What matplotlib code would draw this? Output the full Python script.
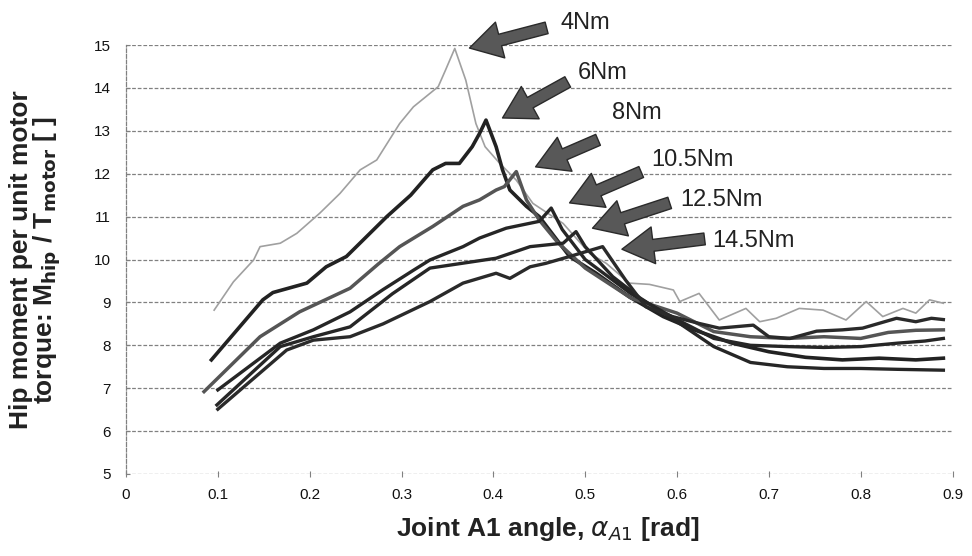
import matplotlib
matplotlib.use("Agg")
import matplotlib.pyplot as plt

plt.rcParams['font.family'] = ['Liberation Sans', 'DejaVu Sans']

# ---------------- data ----------------
x_4 = [0.096, 0.117, 0.139, 0.146, 0.168, 0.186, 0.211, 0.233, 0.255, 0.273, 0.298, 0.313,
       0.340, 0.348, 0.358, 0.370, 0.381, 0.391, 0.407, 0.425, 0.443, 0.476, 0.505, 0.523,
       0.548, 0.570, 0.596, 0.603, 0.624, 0.635, 0.646, 0.675, 0.690, 0.708, 0.733, 0.759,
       0.784, 0.806, 0.824, 0.846, 0.860, 0.875, 0.890]
y_4 = [8.82, 9.48, 9.99, 10.30, 10.38, 10.61, 11.08, 11.54, 12.09, 12.32, 13.17, 13.56,
       14.03, 14.42, 14.92, 14.18, 13.17, 12.63, 12.24, 11.85, 11.31, 10.84, 10.14, 9.91,
       9.45, 9.42, 9.29, 9.02, 9.21, 8.90, 8.59, 8.86, 8.55, 8.63, 8.86, 8.82,
       8.59, 9.02, 8.67, 8.86, 8.75, 9.06, 8.98]

x_6 = [0.093, 0.149, 0.160, 0.197, 0.218, 0.240, 0.258, 0.284, 0.310, 0.334, 0.348, 0.363,
       0.377, 0.385, 0.392, 0.403, 0.410, 0.418, 0.436, 0.450, 0.483, 0.512, 0.548, 0.585,
       0.620, 0.660, 0.700, 0.740, 0.780, 0.820, 0.860, 0.890]
y_6 = [7.66, 9.06, 9.23, 9.45, 9.83, 10.07, 10.45, 11.00, 11.50, 12.09, 12.24, 12.24,
       12.63, 12.94, 13.25, 12.63, 12.09, 11.62, 11.24, 11.00, 10.07, 9.68, 9.13, 8.67,
       8.35, 8.05, 7.85, 7.72, 7.66, 7.70, 7.66, 7.70]

x_8 = [0.085, 0.146, 0.189, 0.244, 0.275, 0.298, 0.334, 0.367, 0.385, 0.403, 0.412, 0.425,
       0.436, 0.450, 0.470, 0.500, 0.550, 0.600, 0.640, 0.680, 0.720, 0.760, 0.800, 0.830,
       0.860, 0.890]
y_8 = [6.92, 8.20, 8.78, 9.33, 9.90, 10.30, 10.77, 11.24, 11.39, 11.62, 11.70, 12.05,
       11.39, 10.92, 10.40, 9.80, 9.10, 8.75, 8.32, 8.20, 8.16, 8.20, 8.16, 8.30,
       8.35, 8.36]

x_105 = [0.100, 0.168, 0.204, 0.244, 0.280, 0.313, 0.331, 0.367, 0.385, 0.414, 0.450, 0.463,
         0.475, 0.500, 0.550, 0.600, 0.640, 0.680, 0.720, 0.760, 0.800, 0.840, 0.870, 0.890]
y_105 = [6.96, 8.05, 8.36, 8.78, 9.30, 9.75, 9.99, 10.30, 10.50, 10.73, 10.89, 11.20,
         10.70, 10.00, 9.20, 8.60, 8.16, 8.00, 7.97, 7.95, 7.97, 8.05, 8.10, 8.16]

x_125 = [0.099, 0.168, 0.204, 0.244, 0.290, 0.331, 0.403, 0.440, 0.476, 0.490, 0.500, 0.530,
         0.560, 0.600, 0.640, 0.680, 0.720, 0.760, 0.800, 0.840, 0.890]
y_125 = [6.61, 7.97, 8.20, 8.43, 9.20, 9.80, 10.03, 10.30, 10.38, 10.65, 10.30, 9.60,
         9.10, 8.55, 7.97, 7.60, 7.50, 7.46, 7.46, 7.44, 7.42]

x_145 = [0.100, 0.175, 0.204, 0.244, 0.280, 0.331, 0.367, 0.403, 0.418, 0.440, 0.457, 0.483,
         0.519, 0.544, 0.566, 0.595, 0.624, 0.646, 0.683, 0.700, 0.723, 0.752, 0.780, 0.802,
         0.839, 0.860, 0.877, 0.890]
y_145 = [6.51, 7.89, 8.12, 8.20, 8.50, 9.02, 9.45, 9.68, 9.56, 9.83, 9.91, 10.07,
         10.30, 9.52, 8.90, 8.67, 8.51, 8.40, 8.47, 8.20, 8.16, 8.33, 8.36, 8.40,
         8.63, 8.55, 8.63, 8.60]

labels = ["4Nm", "6Nm", "8Nm", "10.5Nm", "12.5Nm", "14.5Nm"]
arrow_tips = [(0.374, 14.93), (0.410, 13.30), (0.446, 12.16), (0.483, 11.32), (0.508, 10.73), (0.540, 10.24)]
arrow_tails = [(0.458, 15.40), (0.481, 14.14), (0.514, 12.79), (0.561, 12.04), (0.592, 11.32), (0.630, 10.48)]
label_pos = [(0.473, 15.52), (0.492, 14.35), (0.529, 13.41), (0.572, 12.32), (0.604, 11.39), (0.638, 10.43)]

x_ticks = [0, 0.1, 0.2, 0.3, 0.4, 0.5, 0.6, 0.7, 0.8, 0.9]
x_tick_labels = ["0", "0.1", "0.2", "0.3", "0.4", "0.5", "0.6", "0.7", "0.8", "0.9"]
y_ticks = [5, 6, 7, 8, 9, 10, 11, 12, 13, 14, 15]

# ---------------- figure ----------------
fig = plt.figure(figsize=(9.72, 5.56), dpi=100)
ax = fig.add_axes([0.1296, 0.1475, 0.8504, 0.7715])

ax.set_xlim(0, 0.9)
ax.set_ylim(5, 15)

for yv in y_ticks:
    ax.axhline(yv, color='#808080', lw=0.9, ls=(0, (3, 1.5)), zorder=1)

series = [(x_4, y_4, '#a0a0a0', 1.2),
          (x_6, y_6, '#222222', 2.6),
          (x_8, y_8, '#555555', 2.5),
          (x_105, y_105, '#262626', 2.4),
          (x_125, y_125, '#262626', 2.4),
          (x_145, y_145, '#2a2a2a', 2.4)]
for xs, ys, c, lw in series:
    ax.plot(xs, ys, color=c, lw=lw, zorder=3, solid_joinstyle='round')

for lab, tip, tail, pos in zip(labels, arrow_tips, arrow_tails, label_pos):
    ax.annotate('', xy=tip, xytext=tail, annotation_clip=False,
                arrowprops=dict(arrowstyle='simple,head_length=1.2,head_width=1.4,tail_width=0.45',
                                fc='#585858', ec='#2a2a2a', lw=1.0, mutation_scale=19,
                                shrinkA=0, shrinkB=0), zorder=5)
    ax.text(pos[0], pos[1], lab, fontsize=17, color='#222222', ha='left', va='center',
            clip_on=False, zorder=6)

for s in ['top', 'right', 'bottom']:
    ax.spines[s].set_visible(False)
ax.spines['left'].set_color('#808080')
ax.spines['left'].set_linestyle((0, (3, 1.5)))
ax.spines['left'].set_linewidth(0.9)

ax.set_xticks(x_ticks)
ax.set_xticklabels(x_tick_labels)
ax.set_yticks(y_ticks)
ax.tick_params(axis='x', direction='inout', length=4, color='#808080', labelsize=11,
               labelcolor='#111111', pad=8)
ax.tick_params(axis='y', direction='in', length=3, color='#808080', labelsize=11,
               labelcolor='#111111', pad=11)

ax.set_xlabel(r'Joint A1 angle, $\mathit{\alpha}_{\mathit{A1}}$ [rad]', fontsize=19,
              fontweight='bold', color='#222222')
ax.xaxis.set_label_coords(0.51, -0.095)
ax.set_ylabel('Hip moment per unit motor\n' + r'torque: M$_{\mathbf{hip}}$ / T$_{\mathbf{motor}}$ [ ]',
              fontsize=19, fontweight='bold', color='#222222', linespacing=0.95)
ax.yaxis.set_label_coords(-0.076, 0.5)

fig.savefig('out.png', dpi=100)
